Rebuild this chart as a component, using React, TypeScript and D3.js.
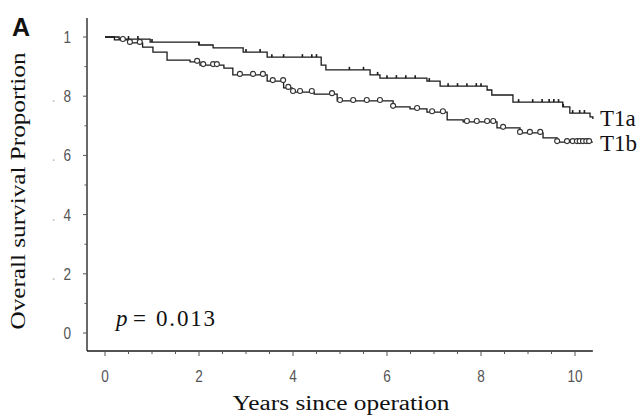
import React, { useEffect, useRef } from "react";
import * as d3 from "d3";

// Kaplan-Meier steps: [years, survival]
const t1aSteps: [number, number][] = [
  [0, 1.0], [0.3, 0.993], [0.96, 0.983], [2.0, 0.973], [2.3, 0.963], [2.94, 0.949],
  [3.45, 0.932], [4.6, 0.905], [4.7, 0.889], [5.64, 0.872], [5.85, 0.861], [6.85, 0.851],
  [7.13, 0.834], [8.13, 0.821], [8.23, 0.804], [8.68, 0.78], [9.74, 0.764], [9.89, 0.743],
  [10.32, 0.73], [10.38, 0.723],
];
const t1bSteps: [number, number][] = [
  [0, 1.0], [0.2, 0.99], [0.5, 0.98], [0.8, 0.966], [1.02, 0.949], [1.32, 0.922],
  [1.81, 0.916], [2.02, 0.905], [2.53, 0.895], [2.72, 0.872], [3.45, 0.851], [3.8, 0.828],
  [3.98, 0.814], [4.45, 0.807], [4.94, 0.784], [6.13, 0.764], [6.49, 0.757], [6.85, 0.746],
  [7.28, 0.72], [7.62, 0.713], [8.34, 0.693], [8.83, 0.676], [9.32, 0.659], [9.62, 0.645],
  [10.38, 0.645],
];
// censored times
const t1aCensor = [0.5, 0.7, 1.0, 2.0, 3.0, 3.3, 3.55, 3.8, 4.2, 4.4, 4.5, 5.2, 5.5, 5.8, 6.0, 6.2,
  6.4, 6.6, 6.9, 7.3, 7.5, 7.7, 7.9, 8.0, 8.8, 9.1, 9.3, 9.45, 9.55, 9.65, 9.75, 9.95, 10.1, 10.2];
const t1bCensor = [0.38, 0.53, 0.74, 1.96, 2.09, 2.3, 2.38, 2.87, 3.15, 3.36, 3.57, 3.79, 3.9, 4.0,
  4.15, 4.4, 4.83, 5.0, 5.28, 5.57, 5.85, 6.13, 6.64, 6.96, 7.19, 7.7, 7.91, 8.13, 8.26, 8.47,
  8.83, 9.04, 9.26, 9.62, 9.83, 9.95, 10.04, 10.1, 10.17, 10.24, 10.3];

const xMajor = [0, 2, 4, 6, 8, 10];
const yMajor = [0, 0.2, 0.4, 0.6, 0.8, 1];
const yTickLabels = ["0", ".2", ".4", ".6", ".8", "1"];
const groupLabels = ["T1a", "T1b"];

const W = 643;
const H = 417;

const stepAt = (steps: [number, number][], t: number) => {
  let v = steps[0][1];
  for (const s of steps) if (s[0] <= t) v = s[1];
  return v;
};

const App = () => {
  const svgRef = useRef(null);

  useEffect(() => {
    const svg = d3.select(svgRef.current);
    svg.selectAll("*").remove();

    const x = d3.scaleLinear().domain([0, 10]).range([105, 575]);
    const y = d3.scaleLinear().domain([0, 1]).range([333, 37]);
    const axisX0 = 87;
    const axisY0 = 351;
    const xEnd = x(10.38);
    const yTop = y(1.064);
    const ink = "#1a1a1a";
    const serif = "'Liberation Serif', 'Times New Roman', serif";
    const sans = "'Liberation Sans', Arial, sans-serif";

    // axes lines
    svg.append("line").attr("x1", axisX0).attr("x2", axisX0).attr("y1", yTop).attr("y2", axisY0)
      .attr("stroke", ink).attr("stroke-width", 1.3);
    svg.append("line").attr("x1", axisX0).attr("x2", xEnd).attr("y1", axisY0).attr("y2", axisY0)
      .attr("stroke", ink).attr("stroke-width", 1.3);

    // x ticks
    const xMinor = d3.range(0, 10.01, 0.5);
    svg.selectAll(".xt").data(xMinor).join("line")
      .attr("x1", (d) => x(d)).attr("x2", (d) => x(d))
      .attr("y1", axisY0)
      .attr("y2", (d) => axisY0 + (xMajor.includes(d) ? 5 : 3))
      .attr("stroke", "#555").attr("stroke-width", 1);
    svg.selectAll(".xl").data(xMajor).join("text")
      .attr("transform", (d) => `translate(${x(d)},382) scale(0.8,1)`)
      .attr("text-anchor", "middle")
      .attr("font-family", sans)
      .attr("font-size", 17).attr("fill", "#555")
      .text((d) => d);

    // y ticks
    const yMinor = d3.range(0, 1.01, 0.1);
    svg.selectAll(".yt").data(yMinor).join("line")
      .attr("x1", axisX0)
      .attr("x2", (d) => axisX0 - (Math.round(d * 10) % 2 === 0 ? 4 : 2.5))
      .attr("y1", (d) => y(d)).attr("y2", (d) => y(d))
      .attr("stroke", "#555").attr("stroke-width", 1);
    const yl = svg.selectAll(".yl").data(yMajor).join("text")
      .attr("transform", (d) => `translate(71,${y(d) + 6}) scale(0.8,1)`)
      .attr("text-anchor", "end")
      .attr("font-family", sans)
      .attr("font-size", 17).attr("fill", "#555");
    yl.each(function (d, i) {
      const lab = yTickLabels[i];
      const t = d3.select(this);
      if (lab.startsWith(".")) {
        t.append("tspan").attr("fill", "#bbb").text(".");
        t.append("tspan").attr("dx", 10).text(lab.slice(1));
      } else {
        t.text(lab);
      }
    });

    // curves
    const line = d3.line<[number, number]>()
      .x((d) => x(d[0])).y((d) => y(d[1]))
      .curve(d3.curveStepAfter);
    [t1aSteps, t1bSteps].forEach((s) => {
      svg.append("path").attr("d", line(s)).attr("fill", "none")
        .attr("stroke", ink).attr("stroke-width", 1.3);
    });

    // censor marks
    svg.selectAll(".ca").data(t1aCensor).join("line")
      .attr("x1", (d) => x(d)).attr("x2", (d) => x(d))
      .attr("y1", (d) => y(stepAt(t1aSteps, d)))
      .attr("y2", (d) => y(stepAt(t1aSteps, d)) - 3)
      .attr("stroke", ink).attr("stroke-width", 1.6);
    svg.selectAll(".cb").data(t1bCensor).join("circle")
      .attr("cx", (d) => x(d))
      .attr("cy", (d) => y(stepAt(t1bSteps, d)) - 1)
      .attr("r", 2.5)
      .attr("fill", "white").attr("stroke", "#333").attr("stroke-width", 1.1);

    // group labels
    const ends = [t1aSteps[t1aSteps.length - 1][1], t1bSteps[t1bSteps.length - 1][1]];
    svg.selectAll(".gl").data(groupLabels).join("text")
      .attr("x", 600).attr("y", (d, i) => y(ends[i]) + (i === 0 ? 7 : 9))
      .attr("font-family", serif)
      .attr("font-size", 23).attr("fill", "#111")
      .text((d) => d);

    // p-value
    const p = svg.append("text").attr("y", 326)
      .attr("font-family", serif)
      .attr("font-size", 23).attr("fill", "#111");
    p.append("tspan").attr("x", 116).attr("font-style", "italic").text("p");
    p.append("tspan").attr("x", 133).text("=");
    p.append("tspan").attr("x", 156).attr("textLength", 59).attr("lengthAdjust", "spacing").text("0.013");

    // axis titles
    svg.append("text").attr("x", 341).attr("y", 410)
      .attr("text-anchor", "middle")
      .attr("font-family", serif)
      .attr("font-size", 20).attr("fill", "#111")
      .attr("textLength", 217).attr("lengthAdjust", "spacingAndGlyphs")
      .text("Years since operation");
    svg.append("text")
      .attr("transform", "translate(25,191) rotate(-90)")
      .attr("text-anchor", "middle")
      .attr("font-family", serif)
      .attr("font-size", 21).attr("fill", "#111")
      .attr("textLength", 277).attr("lengthAdjust", "spacingAndGlyphs")
      .text("Overall survival Proportion");

    // panel letter
    svg.append("text").attr("x", 12).attr("y", 36)
      .attr("font-family", sans)
      .attr("font-weight", "bold").attr("font-size", 25).attr("fill", "#111")
      .text("A");
  }, []);

  return (
    <svg
      ref={svgRef}
      width={W}
      height={H}
      style={{ position: "absolute", left: 0, top: 0, background: "white" }}
    ></svg>
  );
};

export default App;
